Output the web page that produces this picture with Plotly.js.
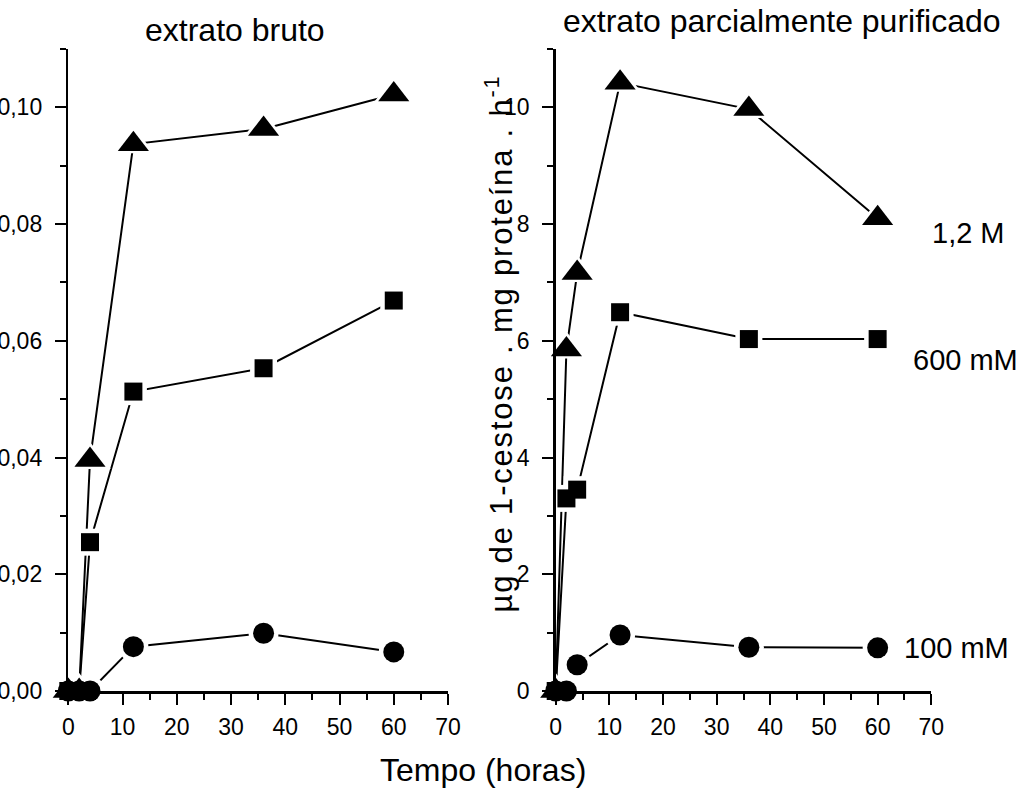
<!DOCTYPE html>
<html>
<head>
<meta charset="utf-8">
<script src="https://cdn.plot.ly/plotly-3.0.1.min.js"></script>
<style>html,body{margin:0;padding:0;background:#fff;}#chart{width:1021px;height:799px;}</style>
</head>
<body>
<div id="chart"></div>
<script>
// ---- data ----
var times = [0, 2, 4, 12, 36, 60];
// extrato bruto
var bruto_12M = [0, 0, 0.0396, 0.0937, 0.0963, 0.1022];
var bruto_600mM = [0, 0, 0.0255, 0.0513, 0.0553, 0.0669];
var bruto_100mM = [0, 0, 0, 0.0076, 0.0099, 0.0067];
// extrato parcialmente purificado
var purif_12M = [0, 5.85, 7.16, 10.42, 9.97, 8.10];
var purif_600mM = [0, 3.30, 3.45, 6.49, 6.03, 6.03];
var purif_100mM = [0, 0, 0.45, 0.96, 0.75, 0.74];
var seriesLabels = ["1,2 M", "600 mM", "100 mM"];
var panelTitles = ["extrato bruto", "extrato parcialmente purificado"];
var xTitle = "Tempo (horas)";
var yTitleRight = "µg de 1-cestose . mg proteína . h<sup>-1</sup>";

// ---- build ----
var FONT = "Liberation Sans, Arial, sans-serif";
var W = 1021, H = 799;
function px(x){ return x / W; }
function py(y){ return 1 - y / H; }

var panels = [
  {xa: 'x', ya: 'y', data: [bruto_12M, bruto_600mM, bruto_100mM]},
  {xa: 'x2', ya: 'y2', data: [purif_12M, purif_600mM, purif_100mM]}
];
var symbols = ['triangle-up', 'square', 'circle'];
var sizes = [27, 18, 21];

var traces = [];
panels.forEach(function(p){
  p.data.forEach(function(vals){
    traces.push({x: times, y: vals, xaxis: p.xa, yaxis: p.ya, mode: 'lines',
      line: {color: '#000', width: 2}, hoverinfo: 'skip', showlegend: false, cliponaxis: false});
  });
});
panels.forEach(function(p){
  p.data.forEach(function(vals, i){
    traces.push({x: times, y: vals, xaxis: p.xa, yaxis: p.ya, mode: 'markers',
      marker: {symbol: symbols[i], size: sizes[i] + 9, color: '#fff', line: {width: 0}},
      hoverinfo: 'skip', showlegend: false, cliponaxis: false});
  });
});
panels.forEach(function(p){
  p.data.forEach(function(vals, i){
    traces.push({x: times, y: vals, xaxis: p.xa, yaxis: p.ya, mode: 'markers',
      marker: {symbol: symbols[i], size: sizes[i], color: '#000', line: {width: 0}},
      showlegend: false, cliponaxis: false});
  });
});

function xaxisDef(domain){
  return {domain: domain, range: [0, 70], dtick: 10, tick0: 0,
    showline: true, linewidth: 2.5, linecolor: '#000', mirror: false,
    ticks: 'outside', ticklen: 11, tickwidth: 2, tickcolor: '#000',
    showgrid: false, zeroline: false, ticklabelstandoff: 3,
    tickfont: {family: FONT, size: 23, color: '#000'},
    minor: {ticks: 'outside', ticklen: 6, tickwidth: 2, tickcolor: '#000', dtick: 5, showgrid: false}};
}
function yaxisDef(range, dtick, minorD, fmt, anchor){
  return {domain: [py(691), py(49)], range: range, dtick: dtick, tick0: 0, anchor: anchor,
    showline: true, linewidth: 2.5, linecolor: '#000',
    ticks: 'outside', ticklen: 11, tickwidth: 2, tickcolor: '#000',
    showgrid: false, zeroline: false, tickformat: fmt, ticklabelstandoff: 8,
    tickfont: {family: FONT, size: 23, color: '#000'},
    minor: {ticks: 'outside', ticklen: 6, tickwidth: 2, tickcolor: '#000', dtick: minorD, showgrid: false}};
}

var xa1 = xaxisDef([px(68.3), px(448)]); xa1.anchor = 'y';
var xa2 = xaxisDef([px(555.7), px(931.3)]); xa2.anchor = 'y2';

var titleFont = {family: FONT, size: 32, color: '#000'};
var labFont = {family: FONT, size: 29, color: '#000'};
var yFont = {family: FONT, size: 31, color: '#000'};
var layout = {
  width: W, height: H,
  margin: {l: 0, r: 0, t: 0, b: 0},
  paper_bgcolor: '#fff', plot_bgcolor: '#fff',
  separators: ',.',
  showlegend: false,
  xaxis: xa1,
  yaxis: yaxisDef([0, 0.11], 0.02, 0.01, '.2f', 'x'),
  xaxis2: xa2,
  yaxis2: yaxisDef([0, 11], 2, 1, 'd', 'x2'),
  annotations: [
    {text: panelTitles[0], xref: 'paper', yref: 'paper', x: px(235), y: py(30), xanchor: 'center', yanchor: 'middle', showarrow: false, font: titleFont},
    {text: panelTitles[1], xref: 'paper', yref: 'paper', x: px(782), y: py(21), xanchor: 'center', yanchor: 'middle', showarrow: false, font: titleFont},
    {text: xTitle, xref: 'paper', yref: 'paper', x: px(483), y: py(770), xanchor: 'center', yanchor: 'middle', showarrow: false, font: titleFont},
    {text: yTitleRight, xref: 'paper', yref: 'paper', x: px(499), y: py(344), xanchor: 'center', yanchor: 'middle', textangle: -90, showarrow: false, font: yFont},
    {text: seriesLabels[0], xref: 'paper', yref: 'paper', x: px(968), y: py(233), xanchor: 'center', yanchor: 'middle', showarrow: false, font: labFont},
    {text: seriesLabels[1], xref: 'paper', yref: 'paper', x: px(965), y: py(360), xanchor: 'center', yanchor: 'middle', showarrow: false, font: labFont},
    {text: seriesLabels[2], xref: 'paper', yref: 'paper', x: px(956), y: py(648), xanchor: 'center', yanchor: 'middle', showarrow: false, font: labFont}
  ]
};

Plotly.newPlot('chart', traces, layout, {displayModeBar: false, staticPlot: true}).then(function(gd){
  // slightly wider letter spacing on the rotated y-axis title, as in the original
  var texts = gd.querySelectorAll('.annotation-text');
  texts.forEach(function(t){
    if (t.textContent.indexOf('cestose') >= 0) {
      t.style.letterSpacing = '1.8px';
    }
  });
});
</script>
</body>
</html>
